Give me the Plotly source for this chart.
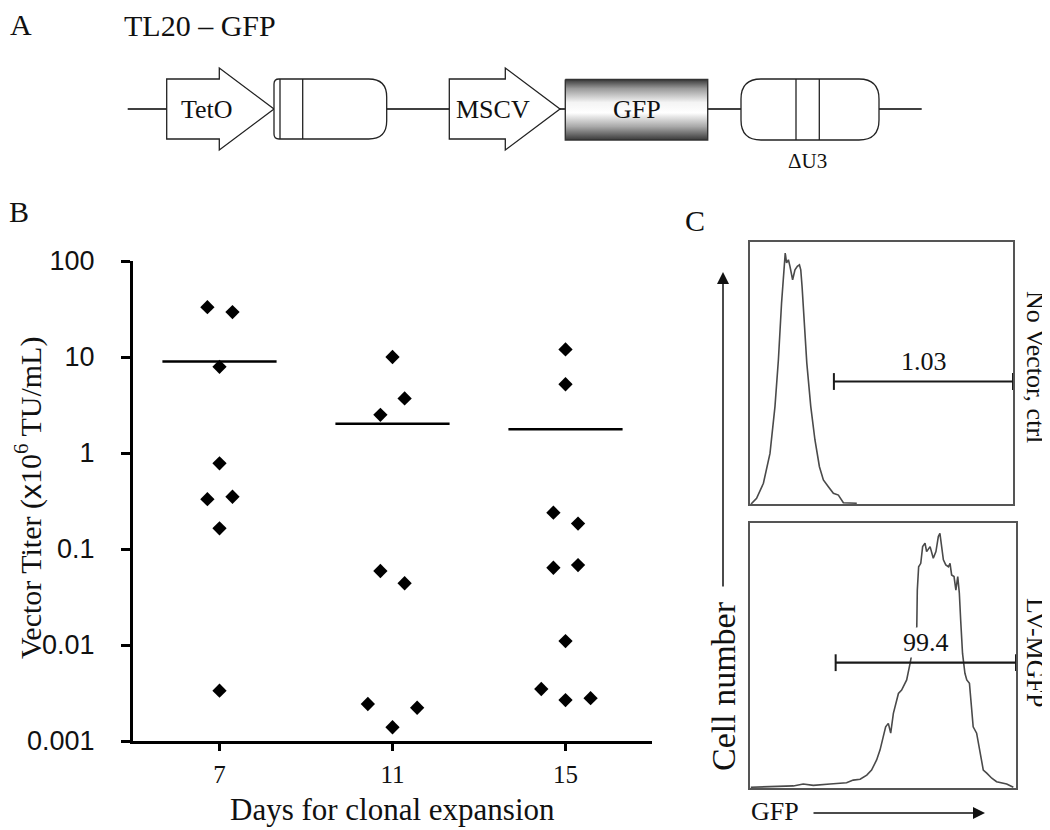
import plotly.graph_objects as go

W, H = 1050, 830
OFF = 8  # page body margin of the html page
SERIF = "Liberation Serif"
SANS = "Liberation Sans"

# ---- panel B: vector titer per clone (x10^6 TU/mL) ----
days = [7, 11, 15]
day7_x = [6.72, 7.30, 7.0, 7.0, 6.72, 7.30, 7.0, 7.0]
day7_titer = [33, 29.4, 7.9, 0.78, 0.33, 0.35, 0.164, 0.00334]
day11_x = [11.0, 10.72, 11.28, 10.72, 11.28, 10.43, 11.0, 11.57]
day11_titer = [10, 2.5, 3.7, 0.059, 0.044, 0.00243, 0.00139, 0.00222]
day15_x = [15.0, 15.0, 14.72, 15.29, 14.72, 15.29, 15.0, 14.44, 15.0, 15.58]
day15_titer = [12.0, 5.2, 0.239, 0.184, 0.0638, 0.068, 0.011, 0.00348, 0.00267, 0.00279]
mean_titer = [9.0, 2.02, 1.77]
y_ticks = [0.001, 0.01, 0.1, 1, 10, 100]
y_ticktext = ["0.001", "0.01", "0.1", "1", "10", "100"]

# ---- panel C: GFP histograms (box units 0-100) ----
ctrl_gfp = [0.4, 2.5, 5.1, 7.6, 9.5, 10.8, 12.0, 12.9, 13.4, 13.9, 14.6, 15.2, 16.2, 17.1,
            18.0, 18.8, 19.3, 19.8, 20.5, 21.6, 23.1, 24.7, 26.4, 27.9, 29.8, 31.7, 33.6,
            35.5, 40.6]
ctrl_count = [0, 2.2, 7.9, 19.3, 37.2, 55.0, 76.6, 90.6, 95.7, 91.9, 93.1, 90.6, 85.5, 89.3,
              90.6, 91.2, 89.3, 82.9, 70.2, 53.7, 37.2, 24.4, 14.2, 9.2, 6.6, 4.1, 3.4,
              0.5, 0.3]
lv_gfp = [0.3, 16.3, 20.0, 23.8, 30.1, 36.3, 38.8, 41.4, 43.9, 45.7, 47.6, 48.9, 50.1, 51.0,
          52.0, 52.9, 53.9, 55.8, 57.0, 58.9, 60.2, 61.4, 62.7, 62.9, 63.4, 64.2, 64.9,
          65.8, 66.4, 67.7, 68.9, 69.9, 70.8, 71.4, 72.1, 72.7, 73.6, 74.6, 75.2, 75.8,
          76.7, 77.4, 78.1, 78.7, 79.2, 79.9, 80.8, 81.5, 82.5, 83.3, 83.9, 85.2, 86.5,
          87.7, 89.0, 90.9, 92.7, 94.6, 96.5, 99.0]
lv_count = [0.4, 0.9, 1.6, 1.1, 1.6, 2.1, 3.1, 3.4, 5.0, 6.9, 10.7, 14.5, 19.5, 23.2,
            24.5, 20.8, 28.3, 35.8, 37.1, 40.9, 47.2, 53.4, 61.0, 74.8, 83.6, 84.9, 91.2,
            92.5, 89.3, 91.2, 86.8, 89.3, 95.0, 96.2, 91.2, 86.2, 84.3, 83.6, 84.9, 80.5,
            79.9, 74.8, 79.9, 73.6, 63.5, 50.9, 43.4, 40.9, 39.6, 30.8, 23.2, 20.8, 13.2,
            6.9, 5.7, 3.8, 2.5, 1.9, 1.6, 0.4]
gate_start = [31.9, 32.2]
gate_level = [46.7, 47.4]
gate_pct = ["1.03", "99.4"]
sample_names = ["No Vector, ctrl", "LV-MGFP"]

# ---- panel A: construct elements (schematic units) ----
construct_title = "TL20 – GFP"
backbone = [127.7, 921.7]
promoters = ["TetO", "MSCV"]
promoter_span = [(166.7, 274), (449.3, 560)]
gfp_span = (565.3, 707.7)
ltr_span = [(274, 386.7), (741, 879)]


def fx(p):
    return (p - OFF) / W


def fy(p):
    return 1 - (p - OFF) / H


fig = go.Figure()
annotations = []

# panel B
for xs, ys in [(day7_x, day7_titer), (day11_x, day11_titer), (day15_x, day15_titer)]:
    fig.add_trace(go.Scatter(x=xs, y=ys, mode="markers", xaxis="x", yaxis="y",
                             marker=dict(symbol="diamond", size=11, color="black"),
                             showlegend=False, hoverinfo="skip"))
for d, m in zip(days, mean_titer):
    fig.add_trace(go.Scatter(x=[d - 1.32, d + 1.32], y=[m, m], mode="lines", xaxis="x", yaxis="y",
                             line=dict(color="black", width=2.5), showlegend=False,
                             hoverinfo="skip"))

# panel C histograms + gates
hist_axes = [("x2", "y2"), ("x3", "y3")]
for (xa, ya), gx, gy, gs, gl, pct in zip(hist_axes, [ctrl_gfp, lv_gfp], [ctrl_count, lv_count],
                                         gate_start, gate_level, gate_pct):
    fig.add_trace(go.Scatter(x=gx, y=gy, mode="lines", xaxis=xa, yaxis=ya,
                             line=dict(color="#4a4a4a", width=1.6), showlegend=False,
                             hoverinfo="skip"))
    fig.add_trace(go.Scatter(x=[gs, 100], y=[gl, gl], mode="lines+markers", xaxis=xa, yaxis=ya,
                             line=dict(color="#1a1a1a", width=2.2), cliponaxis=False,
                             marker=dict(symbol="line-ns-open", size=12,
                                         line=dict(color="#1a1a1a", width=2)),
                             showlegend=False, hoverinfo="skip"))
    annotations.append(dict(x=66, y=gl + 7.5, xref=xa, yref=ya, text=pct, showarrow=False,
                            bgcolor="white", borderpad=0,
                            font=dict(family=SERIF, size=26, color="#111")))

# panel A: GFP box with vertical gradient
gx0, gx1 = gfp_span
fig.add_trace(go.Scatter(x=[gx0, gx1, gx1, gx0, gx0], y=[79.5, 79.5, 140, 140, 79.5],
                         mode="lines", fill="toself", xaxis="x4", yaxis="y4",
                         fillgradient=dict(type="vertical",
                                           colorscale=[[0, "#3a3a3a"], [0.22, "#a8a8a8"],
                                                       [0.45, "#ffffff"], [0.62, "#f4f4f4"],
                                                       [0.85, "#9a9a9a"], [1, "#383838"]]),
                         line=dict(color="#333", width=1.4), showlegend=False,
                         hoverinfo="skip"))


def arrow_path(x0, x1, head, yc=109, bh=30, hh=41):
    xb = x1 - head
    return (f"M {x0},{yc-bh} L {xb},{yc-bh} L {xb},{yc-hh} L {x1},{yc} "
            f"L {xb},{yc+hh} L {xb},{yc+bh} L {x0},{yc+bh} Z")


def pill_path(x0, x1, y0, y1, rl, rr):
    return (f"M {x0+rl},{y0} L {x1-rr},{y0} Q {x1},{y0} {x1},{y0+rr} L {x1},{y1-rr} "
            f"Q {x1},{y1} {x1-rr},{y1} L {x0+rl},{y1} Q {x0},{y1} {x0},{y1-rl} "
            f"L {x0},{y0+rl} Q {x0},{y0} {x0+rl},{y0} Z")


ov = dict(xref="x4", yref="y4")
shapes = [dict(type="line", x0=backbone[0], x1=backbone[1], y0=109, y1=109, layer="below",
               line=dict(color="black", width=1.3), **ov)]
for (a, b) in promoter_span:
    shapes.append(dict(type="path", path=arrow_path(a, b, 54.7), fillcolor="white",
                       line=dict(color="#222", width=1.3), **ov))
(l0, l1), (r0, r1) = ltr_span
shapes.append(dict(type="path", path=pill_path(l0, l1, 79, 139, 5, 18), fillcolor="white",
                   line=dict(color="#222", width=1.3), **ov))
for xv in [l0 + 6, l0 + 28.7]:
    shapes.append(dict(type="line", x0=xv, x1=xv, y0=79, y1=139,
                       line=dict(color="#222", width=1.3), **ov))
shapes.append(dict(type="path", path=pill_path(r0, r1, 79, 140, 20, 20), fillcolor="white",
                   line=dict(color="#222", width=1.3), **ov))
for xv in [r0 + 55, r0 + 78.3]:
    shapes.append(dict(type="line", x0=xv, x1=xv, y0=79, y1=140,
                       line=dict(color="#222", width=1.3), **ov))

labels = [
    dict(x=21, y=24, text="A", font=dict(family=SERIF, size=30)),
    dict(x=200, y=25, text=construct_title, font=dict(family=SERIF, size=30)),
    dict(x=19, y=211, text="B", font=dict(family=SERIF, size=30)),
    dict(x=695, y=220, text="C", font=dict(family=SERIF, size=30)),
    dict(x=207, y=109, text=promoters[0], font=dict(family=SERIF, size=26)),
    dict(x=493, y=109, text=promoters[1], font=dict(family=SERIF, size=26)),
    dict(x=(gx0 + gx1) / 2, y=109, text="GFP", font=dict(family=SERIF, size=26)),
    dict(x=r0 + 66, y=161, text="ΔU3", font=dict(family=SERIF, size=21)),
    dict(x=28, y=498, text="Vector Titer (<span style='font-family:Liberation Sans'>x</span>10<sup>6</sup> TU/mL)",
         textangle=-90, font=dict(family=SERIF, size=30)),
    dict(x=392, y=809, text="Days for clonal expansion", font=dict(family=SERIF, size=31)),
    dict(x=1036, y=367, text=sample_names[0], textangle=90, font=dict(family=SERIF, size=26)),
    dict(x=1036, y=652, text=sample_names[1], textangle=90, font=dict(family=SERIF, size=26)),
    dict(x=723, y=686, text="Cell number", textangle=-90, font=dict(family=SERIF, size=34)),
    dict(x=775, y=811, text="GFP", font=dict(family=SERIF, size=26)),
]
for a in labels:
    a.update(showarrow=False, **ov)
    a["font"]["color"] = "#111"
annotations += labels
# axis arrows in panel C
annotations.append(dict(x=723, y=272, ax=723, ay=588, axref="x4", ayref="y4", showarrow=True,
                        arrowhead=2, arrowsize=1.6, arrowwidth=1.5, arrowcolor="#111",
                        text="", **ov))
annotations.append(dict(x=985, y=813, ax=812, ay=813, axref="x4", ayref="y4", showarrow=True,
                        arrowhead=2, arrowsize=1.6, arrowwidth=1.5, arrowcolor="#111",
                        text="", **ov))

box = dict(showline=True, mirror=True, linecolor="#555", linewidth=1.5, showticklabels=False,
           ticks="", showgrid=False, zeroline=False, range=[0, 100], fixedrange=True,
           automargin=False)

fig.update_layout(
    template="none",
    width=W, height=H, margin=dict(l=0, r=0, t=0, b=0, pad=0),
    paper_bgcolor="white", plot_bgcolor="rgba(0,0,0,0)", showlegend=False,
    xaxis=dict(domain=[fx(133), fx(652)], range=[5, 17], tickvals=days,
               ticktext=[str(d) for d in days], ticks="outside", ticklen=7, tickwidth=2.5,
               tickcolor="black", showline=True, linecolor="black", linewidth=3,
               showgrid=False, zeroline=False, ticklabelstandoff=2, automargin=False,
               tickfont=dict(family=SERIF, size=25, color="#111"), anchor="y"),
    yaxis=dict(domain=[fy(741), fy(261)], type="log", range=[-3, 2], tickvals=y_ticks,
               ticktext=y_ticktext, ticks="outside", ticklen=9, tickwidth=2.5,
               tickcolor="black", showline=True, linecolor="black", linewidth=3,
               showgrid=False, zeroline=False, ticklabelstandoff=21, automargin=False,
               tickfont=dict(family=SANS, size=27, color="#111"), anchor="x"),
    xaxis2=dict(domain=[fx(750), fx(1013)], anchor="y2", **box),
    yaxis2=dict(domain=[fy(504), fy(241.7)], anchor="x2", **box),
    xaxis3=dict(domain=[fx(750), fx(1016)], anchor="y3", **box),
    yaxis3=dict(domain=[fy(788.3), fy(523.3)], anchor="x3", **box),
    xaxis4=dict(domain=[0, 1], range=[OFF, W + OFF], visible=False, fixedrange=True,
                anchor="y4", automargin=False),
    yaxis4=dict(domain=[0, 1], range=[H + OFF, OFF], visible=False, fixedrange=True,
                anchor="x4", automargin=False),
    shapes=shapes,
    annotations=annotations,
)

fig.write_html("out.html")
